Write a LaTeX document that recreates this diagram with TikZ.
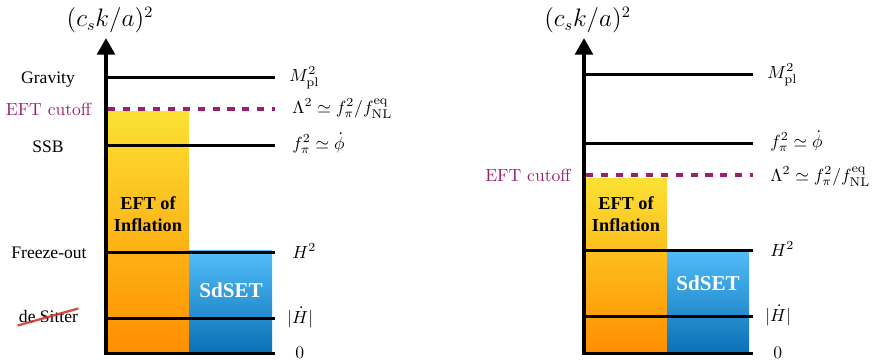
\documentclass[tikz,border=0pt]{standalone}
\usepackage{amsmath, amssymb}
\usepackage{fontspec}
\newfontfamily\timesfont{Liberation Serif}
\usetikzlibrary{arrows.meta, calc}
\definecolor{eftyellow}{HTML}{FBE133}
\definecolor{eftorange}{HTML}{FF8E00}
\definecolor{setlight}{HTML}{52BEF9}
\definecolor{setdark}{HTML}{0B70B6}
\definecolor{cutpurple}{HTML}{99206B}
\definecolor{strikered}{HTML}{D2382B}
\tikzset{
  every picture/.style={line cap=butt, line join=miter},
  % vertical axis with a filled triangle tip
  axisline/.style={-{Triangle[length=9.5pt, width=10pt]}, line width=2.3pt},
  level/.style={line width=1.7pt},
  cutline/.style={cutpurple, line width=2.2pt, dash pattern=on 4pt off 4.5pt},
  % boxes of the two theories
  eftbox/.style={top color=eftyellow, bottom color=eftorange, draw=none},
  setbox/.style={top color=setlight, bottom color=setdark, draw=none},
  leftlab/.style={font=\timesfont, anchor=base},
  rightlab/.style={font=\fontsize{10.3}{12.4}\selectfont, anchor=base west, inner sep=0pt},
  cutlab/.style={cutpurple, anchor=base, inner sep=0pt},
  boxlab/.style={font=\timesfont\fontsize{10.4}{12.2}\selectfont\bfseries, align=center},
  axislab/.style={font=\fontsize{13.4}{16}\selectfont},
}
\begin{document}
\begin{tikzpicture}[x=0.02cm, y=-0.02cm]
  \useasboundingbox (0,0) rectangle (881,363);
  % ---------------- left panel ----------------
  \fill[eftbox] (106,111) rectangle (189,353);
  \fill[setbox] (189,250) rectangle (272,353);
  \draw[level] (106,77) -- (275,77);
  \draw[level] (106,145) -- (275,145);
  \draw[level] (106,252) -- (275,252);
  \draw[level] (106,318) -- (275,318);
  \draw[level] (106,353) -- (275,353);
  \draw[cutline] (108,109) -- (275,109);
  \draw[axisline] (106,354.5) -- (106,38);
  \node[axislab] (axisL) at (110,20) {$(c_s k/a)^2$};
  % names of the scales
  \node[leftlab] (gravityL) at (48,83) {Gravity};
  \node[cutlab] (cutoffL) at (48.5,115) {EFT cutoff};
  \node[leftlab] (ssbL) at (48,152) {SSB};
  \node[leftlab] (freezeL) at (49,258) {Freeze-out};
  \node[leftlab, inner sep=0pt] (desitterL) at (48.5,322) {de Sitter};
  \draw[strikered, line width=1.3pt, opacity=0.9]
    ($(desitterL.south west)+(-1,3)$) -- ($(desitterL.north east)+(0,-1)$);
  % values of the scales
  \node[rightlab] (mplL) at (289,81) {$M_{\text{pl}}^2$};
  \node[rightlab] (lambdaL) at (292,113) {$\Lambda^2 \simeq f_\pi^2/f_{\text{NL}}^{\text{eq}}$};
  \node[rightlab] (fpiL) at (292,149) {$f_\pi^2 \simeq \dot\phi$};
  \node[rightlab] (hsqL) at (292,258) {$H^2$};
  \node[rightlab] (hdotL) at (287,323) {$|\dot H|$};
  \node[rightlab] (zeroL) at (295,358) {$0$};
  \node[boxlab] (eftL) at (148,214) {EFT of\\Inflation};
  \node[boxlab, font=\timesfont\large\bfseries, white] (sdsetL) at (231,290) {SdSET};
  % ---------------- right panel ----------------
  \fill[eftbox] (584,178) rectangle (667,353);
  \fill[setbox] (667,249) rectangle (749,353);
  \draw[level] (584,74) -- (753,74);
  \draw[level] (584,143) -- (753,143);
  \draw[level] (584,250) -- (753,250);
  \draw[level] (584,316) -- (753,316);
  \draw[level] (584,353) -- (753,353);
  \draw[cutline] (586,175) -- (753,175);
  \draw[axisline] (584,354.5) -- (584,38);
  \node[axislab] (axisR) at (587.5,20) {$(c_s k/a)^2$};
  \node[cutlab, anchor=base east] (cutoffR) at (571,181) {EFT cutoff};
  \node[rightlab] (mplR) at (767,78) {$M_{\text{pl}}^2$};
  \node[rightlab] (fpiR) at (770,147) {$f_\pi^2 \simeq \dot\phi$};
  \node[rightlab] (lambdaR) at (770,181) {$\Lambda^2 \simeq f_\pi^2/f_{\text{NL}}^{\text{eq}}$};
  \node[rightlab] (hsqR) at (770,256) {$H^2$};
  \node[rightlab] (hdotR) at (765,321) {$|\dot H|$};
  \node[rightlab] (zeroR) at (773,358) {$0$};
  \node[boxlab] (eftR) at (626,214) {EFT of\\Inflation};
  \node[boxlab, font=\timesfont\large\bfseries, white] (sdsetR) at (708,283) {SdSET};
\end{tikzpicture}
\end{document}
